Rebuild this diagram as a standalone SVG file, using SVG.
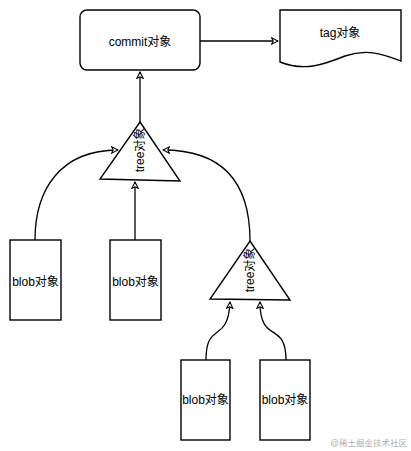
<svg xmlns="http://www.w3.org/2000/svg" width="411" height="451" viewBox="0 0 411 451">
<style>
.shape{fill:#fff;stroke:#000;stroke-width:1.4}
.conn{fill:none;stroke:#000;stroke-width:1.3}
text{font-family:"Liberation Sans","Noto Sans CJK SC",sans-serif;font-size:12px;fill:#000;text-anchor:middle;dominant-baseline:central}
.wm{font-size:8.5px;fill:#b0b0b0;text-anchor:end}
</style>
<defs>
<marker id="arr" viewBox="0 0 10 10" refX="9" refY="5" markerWidth="8" markerHeight="8" orient="auto" markerUnits="userSpaceOnUse">
<path d="M1,1 L9,5 L1,9 L3,5 Z" fill="#fff" stroke="#000" stroke-width="1.3"/>
</marker>
</defs>
<rect width="411" height="451" fill="#fff"/>
<g id="connectors">
<path class="conn" d="M200,41 L278,41" marker-end="url(#arr)"/>
<path class="conn" d="M140,122 L140,72" marker-end="url(#arr)"/>
<path class="conn" d="M35,240 C35,190 60,150 118,150" marker-end="url(#arr)"/>
<path class="conn" d="M135,240 L135,182" marker-end="url(#arr)"/>
<path class="conn" d="M250,241 C250,185 225,150 163,150" marker-end="url(#arr)"/>
<path class="conn" d="M206,360 C206,320 228,345 230,302" marker-end="url(#arr)"/>
<path class="conn" d="M286,360 C286,320 260,345 260,302" marker-end="url(#arr)"/>
</g>
<g id="commit">
<rect class="shape" x="80" y="10" width="120" height="60" rx="7"/>
<text x="140" y="42">commit对象</text>
</g>
<g id="tag">
<path class="shape" d="M280,10 L401,10 L401,61 C385,55 368,48 345,56 C325,64 305,72 280,62 Z"/>
<text x="340" y="33">tag对象</text>
</g>
<g id="tree1">
<path class="shape" d="M140,122 L180,181 L100,179 Z"/>
<text x="140" y="150" transform="rotate(-90 140 150)">tree对象</text>
</g>
<g id="tree2">
<path class="shape" d="M250,241 L290,300 L210,299 Z"/>
<text x="250" y="270" transform="rotate(-90 250 270)">tree对象</text>
</g>
<g id="blob1">
<rect class="shape" x="10" y="240" width="51" height="80"/>
<text x="35.5" y="282">blob对象</text>
</g>
<g id="blob2">
<rect class="shape" x="110" y="240" width="51" height="80"/>
<text x="135.5" y="282">blob对象</text>
</g>
<g id="blob3">
<rect class="shape" x="181" y="360" width="49" height="80"/>
<text x="205.5" y="400">blob对象</text>
</g>
<g id="blob4">
<rect class="shape" x="260" y="360" width="50" height="80"/>
<text x="285" y="400">blob对象</text>
</g>
<text class="wm" x="407" y="443">@稀土掘金技术社区</text>
</svg>
